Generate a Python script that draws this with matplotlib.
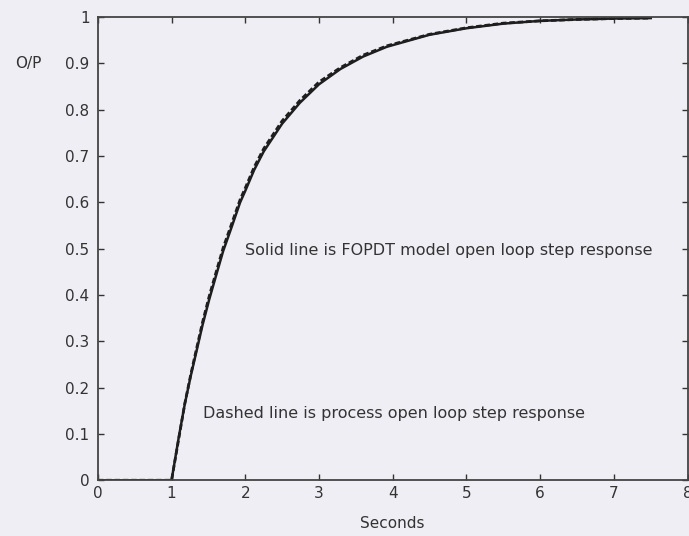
import matplotlib.pyplot as plt

# open loop step responses, values read at these times (seconds)
t = [0, 1.0, 1.1, 1.18, 1.26, 1.34, 1.42, 1.51, 1.60, 1.70, 1.80, 1.93,
     2.0, 2.12, 2.25, 2.5, 2.74, 3.0, 3.29, 3.6, 3.92, 4.5, 5.0, 5.5,
     6.0, 6.5, 7.0, 7.5]
fopdt = [0, 0, 0.095, 0.165, 0.225, 0.28, 0.335, 0.39, 0.44, 0.495, 0.54,
         0.60, 0.625, 0.67, 0.71, 0.77, 0.815, 0.855, 0.888, 0.915, 0.936,
         0.962, 0.976, 0.986, 0.992, 0.995, 0.997, 0.998]
process = [0, 0, 0.092, 0.166, 0.228, 0.285, 0.341, 0.397, 0.447, 0.502,
           0.547, 0.606, 0.631, 0.676, 0.716, 0.776, 0.82, 0.86, 0.891,
           0.918, 0.938, 0.963, 0.977, 0.987, 0.992, 0.995, 0.997, 0.998]

xticks = [0, 1, 2, 3, 4, 5, 6, 7, 8]
yticks = [0, 0.1, 0.2, 0.3, 0.4, 0.5, 0.6, 0.7, 0.8, 0.9, 1]
ytick_labels = ['0', '0.1', '0.2', '0.3', '0.4', '0.5', '0.6', '0.7', '0.8',
                '0.9', '1']

bg = '#eeeef4'
ink = '#333333'

fig = plt.figure(figsize=(6.89, 5.36), dpi=100, facecolor=bg)
ax = fig.add_axes([0.142, 0.104, 0.856, 0.864], facecolor=bg)

ax.plot(t, fopdt, '-', color='#1e1e1e', lw=1.8)
ax.plot(t, process, '--', color='#1e1e1e', lw=2.0, dashes=(2, 1))

ax.set_xlim(0, 8)
ax.set_ylim(0, 1)
ax.set_xticks(xticks)
ax.set_yticks(yticks)
ax.set_yticklabels(ytick_labels)
ax.tick_params(direction='in', length=4, width=1, colors=ink,
               labelsize=11, top=True, right=True)
ax.tick_params(axis='y', pad=6)
ax.tick_params(axis='x', pad=4)
for s in ax.spines.values():
    s.set_color('#444444')
    s.set_linewidth(1.3)

ax.set_xlabel('Seconds', fontsize=11, color=ink, labelpad=11)
ax.text(-0.141, 0.9, 'O/P', transform=ax.transAxes, fontsize=11,
        color=ink, va='center')

ax.text(2.0, 0.497, 'Solid line is FOPDT model open loop step response',
        fontsize=11.5, color=ink, va='center')
ax.text(1.43, 0.145, 'Dashed line is process open loop step response',
        fontsize=11.5, color=ink, va='center')

plt.savefig('out.png', dpi=100, facecolor=bg)
